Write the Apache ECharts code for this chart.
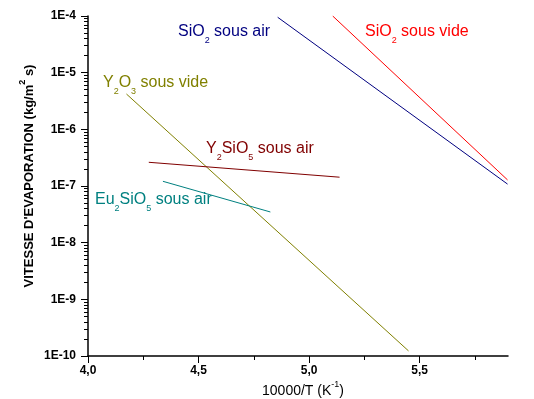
<!DOCTYPE html>
<html><head><meta charset="utf-8">
<script src="https://cdn.jsdelivr.net/npm/echarts@6/dist/echarts.min.js"></script>
<style>html,body{margin:0;padding:0;background:#fff}#c{width:534px;height:399px}</style>
</head><body><div id="c"></div>
<script>
// ---- data ----
const xMajorTicks = [4.0, 4.5, 5.0, 5.5];
const xMinorTicks = [4.25, 4.75, 5.25, 5.75];
const yTickLabels = ['1E-10', '1E-9', '1E-8', '1E-7', '1E-6', '1E-5', '1E-4'];

const sio2AirX = [4.858, 5.898];
const sio2AirY = [9.5e-5, 1.08e-7];
const sio2VideX = [5.107, 5.898];
const sio2VideY = [1.0e-4, 1.28e-7];
const y2o3VideX = [4.174, 5.450];
const y2o3VideY = [4.2e-6, 1.23e-10];
const y2sio5AirX = [4.275, 5.138];
const y2sio5AirY = [2.62e-7, 1.43e-7];
const eu2sio5AirX = [4.339, 4.825];
const eu2sio5AirY = [1.21e-7, 3.48e-8];

const FONT = "'Liberation Sans', Arial, sans-serif";
const pairs = (xs, ys) => xs.map((x, i) => [x, ys[i]]);

function mkLine(name, xs, ys, color) {
  return {
    name, type: 'line', data: pairs(xs, ys), showSymbol: false, symbol: 'none',
    lineStyle: { width: 1, color }, itemStyle: { color }, silent: true, animation: false,
    xAxisIndex: 0, yAxisIndex: 0
  };
}

function seriesLabel(text, x, y, color) {
  return {
    type: 'text', x, y, silent: true,
    style: {
      text, fill: color, fontFamily: FONT, fontSize: 16, lineHeight: 26,
      align: 'left', verticalAlign: 'middle',
      rich: { s: { fontSize: 9, fontFamily: FONT, fill: color, verticalAlign: 'bottom', lineHeight: 9 } }
    }
  };
}

const chart = echarts.init(document.getElementById('c'), null, { renderer: 'canvas' });
const axisLineStyle = { color: '#000', width: 1.5 };

chart.setOption({
  animation: false,
  backgroundColor: '#fff',
  grid: { left: 88, right: 26, top: 16, bottom: 43, containLabel: false, outerBoundsMode: 'none' },
  xAxis: [{
    type: 'value', min: 4, max: 5.9,
    axisLine: { show: true, onZero: false, lineStyle: axisLineStyle },
    axisTick: { show: true, length: 7, customValues: xMajorTicks, lineStyle: { color: '#000', width: 1 } },
    axisLabel: {
      customValues: xMajorTicks, margin: 9, color: '#000', fontFamily: FONT, fontSize: 12, fontWeight: 'bold',
      formatter: v => v.toFixed(1).replace('.', ',')
    },
    splitLine: { show: false }
  }, {
    type: 'value', min: 4, max: 5.9, position: 'bottom', gridIndex: 0,
    axisLine: { show: false, onZero: false },
    axisTick: { show: true, length: 4, customValues: xMinorTicks, lineStyle: { color: '#000', width: 1 } },
    axisLabel: { show: false },
    splitLine: { show: false }
  }],
  yAxis: [{
    type: 'log', logBase: 10, min: 1e-10, max: 1e-4,
    axisLine: { show: true, onZero: false, lineStyle: axisLineStyle },
    axisTick: { show: true, length: 7, lineStyle: { color: '#000', width: 1 } },
    minorTick: { show: true, splitNumber: 9, length: 4, lineStyle: { color: '#000', width: 1 } },
    axisLabel: {
      margin: 12, color: '#000', fontFamily: FONT, fontSize: 12, fontWeight: 'bold',
      formatter: v => yTickLabels[Math.round(Math.log10(v)) + 10]
    },
    splitLine: { show: false }, minorSplitLine: { show: false }
  }],
  series: [
    mkLine('SiO2 sous air', sio2AirX, sio2AirY, '#000080'),
    mkLine('SiO2 sous vide', sio2VideX, sio2VideY, '#ff0000'),
    mkLine('Y2O3 sous vide', y2o3VideX, y2o3VideY, '#808000'),
    mkLine('Y2SiO5 sous air', y2sio5AirX, y2sio5AirY, '#800000'),
    mkLine('Eu2SiO5 sous air', eu2sio5AirX, eu2sio5AirY, '#008080')
  ],
  graphic: [
    seriesLabel('SiO{s|2} sous air', 178, 32, '#000080'),
    seriesLabel('SiO{s|2} sous vide', 365, 32, '#ff0000'),
    seriesLabel('Y{s|2}O{s|3} sous vide', 103, 83, '#808000'),
    seriesLabel('Y{s|2}SiO{s|5} sous air', 206, 149, '#800000'),
    seriesLabel('Eu{s|2}SiO{s|5} sous air', 95, 200, '#008080'),
    {
      type: 'text', x: 29, y: 176, rotation: Math.PI / 2, silent: true,
      style: {
        text: "VITESSE D'EVAPORATION (kg/m{p|2} s)", fill: '#000', fontFamily: FONT,
        fontSize: 13, fontWeight: 'bold', lineHeight: 21, align: 'center', verticalAlign: 'middle',
        rich: { p: { fontSize: 9, fontWeight: 'bold', fontFamily: FONT, fill: '#000', verticalAlign: 'top', lineHeight: 9 } }
      }
    },
    {
      type: 'text', x: 303, y: 391, silent: true,
      style: {
        text: '10000/T (K{p|-1})', fill: '#000', fontFamily: FONT,
        fontSize: 14, lineHeight: 21, align: 'center', verticalAlign: 'middle',
        rich: { p: { fontSize: 9, fontFamily: FONT, fill: '#000', verticalAlign: 'top', lineHeight: 9 } }
      }
    }
  ]
});
</script></body></html>
